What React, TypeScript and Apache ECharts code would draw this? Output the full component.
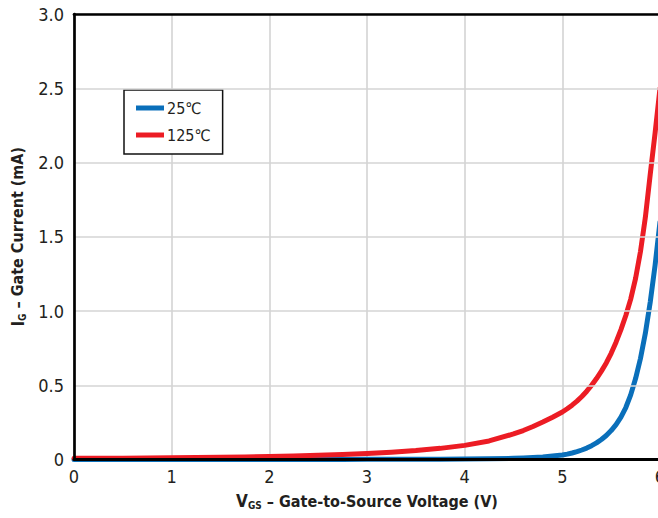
import React, { useEffect, useRef } from "react";
import * as echarts from "echarts";

const vgs = [
  0, 0.25, 0.5, 0.75, 1, 1.25, 1.5, 1.75, 2, 2.25, 2.5, 2.75, 3, 3.25, 3.5, 3.75, 4, 4.25, 4.5,
  4.6, 4.7, 4.8, 4.9, 5.0, 5.05, 5.1, 5.15, 5.2, 5.25, 5.3, 5.35, 5.4, 5.45, 5.5, 5.55, 5.6,
  5.65, 5.7, 5.75, 5.8, 5.85, 5.9, 5.95, 6.0,
];
const ig25 = [
  0, 0, 0, 0, 0, 0, 0, 0, 0, 0, 0, 0.0005, 0.001, 0.0015, 0.002, 0.0025, 0.003, 0.005, 0.008,
  0.01, 0.013, 0.017, 0.023, 0.03, 0.036, 0.044, 0.053, 0.064, 0.077, 0.093, 0.112, 0.135, 0.162, 0.195, 0.235, 0.285,
  0.35, 0.435, 0.545, 0.68, 0.85, 1.06, 1.31, 1.6,
];
const ig125 = [
  0.008, 0.0085, 0.009, 0.01, 0.011, 0.013, 0.015, 0.017, 0.02, 0.024, 0.028, 0.033, 0.04, 0.049, 0.06, 0.075, 0.095, 0.125, 0.172,
  0.195, 0.222, 0.252, 0.285, 0.32, 0.342, 0.366, 0.393, 0.424, 0.46, 0.5, 0.545, 0.595, 0.65, 0.715, 0.79, 0.875,
  0.97, 1.08, 1.22, 1.4, 1.63, 1.92, 2.2, 2.5,
];
const seriesNames = ["25℃", "125℃"];
const xTickLabels = ["0", "1", "2", "3", "4", "5", "6"];
const yTickLabels = ["0", "0.5", "1.0", "1.5", "2.0", "2.5", "3.0"];

const FONT = "'Liberation Sans Narrow', 'DejaVu Sans Condensed', 'Noto Sans', sans-serif";
const INK = "#231f20";

export default function App() {
  const ref = useRef<HTMLDivElement>(null);
  useEffect(() => {
    if (!ref.current) return;
    const chart = echarts.init(ref.current, undefined, { renderer: "svg" });
    const W = 680;
    const H = 518;
    const titleRich = {
      v: { fontFamily: FONT, fontSize: 17, fontWeight: "bold", color: INK },
      s: { fontFamily: FONT, fontSize: 10, fontWeight: "bold", color: INK, padding: [9, 0, 0, 0] },
      t: { fontFamily: FONT, fontSize: 16, fontWeight: "bold", color: INK },
    };
    chart.setOption({
      animation: false,
      backgroundColor: "#ffffff",
      grid: {
        left: 74,
        top: 14,
        right: W - 660,
        bottom: H - 459.5,
        show: false,
      },
      legend: {
        orient: "vertical",
        left: 124,
        top: 90,
        data: seriesNames,
        icon: "rect",
        itemWidth: 28,
        itemHeight: 5,
        itemGap: 9,
        padding: [9, 12, 10, 12],
        backgroundColor: "#fff",
        borderColor: "#111",
        borderWidth: 1.5,
        borderRadius: 0,
        textStyle: { fontFamily: FONT, fontSize: 16, color: INK, lineHeight: 18, padding: [0, 0, 0, -2] },
      },
      xAxis: [
        {
          type: "value",
          min: 0,
          max: 6,
          interval: 1,
          axisLine: { show: false },
          axisTick: { show: false },
          splitLine: { show: true, lineStyle: { color: "#d4d4d4", width: 1.6 } },
          axisLabel: {
            fontFamily: FONT,
            fontSize: 18,
            color: INK,
            margin: 8,
            formatter: (v: number) => xTickLabels[Math.round(v)],
          },
          name: "{v|V}{s|GS}{t| – Gate-to-Source Voltage (V)}",
          nameLocation: "middle",
          nameGap: 32,
          nameTextStyle: { fontFamily: FONT, color: INK, rich: titleRich },
        },
        {
          type: "value",
          min: 0,
          max: 6,
          interval: 1,
          position: "bottom",
          z: 5,
          axisLine: { show: true, onZero: false, lineStyle: { color: "#000", width: 3 } },
          axisTick: { show: false },
          splitLine: { show: false },
          axisLabel: { show: false },
        },
        {
          type: "value",
          min: 0,
          max: 6,
          interval: 1,
          position: "top",
          z: 5,
          axisLine: { show: true, onZero: false, lineStyle: { color: "#000", width: 2.7 } },
          axisTick: { show: false },
          splitLine: { show: false },
          axisLabel: { show: false },
        },
      ],
      yAxis: {
        type: "value",
        min: 0,
        max: 3,
        interval: 0.5,
        z: 5,
        axisLine: { show: true, onZero: false, lineStyle: { color: "#000", width: 2.7 } },
        axisTick: { show: false },
        splitLine: { show: true, lineStyle: { color: "#d4d4d4", width: 1.6 } },
        axisLabel: {
          fontFamily: FONT,
          fontSize: 18,
          color: INK,
          margin: 10,
          formatter: (v: number) => yTickLabels[Math.round(v / 0.5)],
        },
        name: "{v|I}{s|G}{t| – Gate Current (mA)}",
        nameLocation: "middle",
        nameGap: 44,
        nameTextStyle: { fontFamily: FONT, color: INK, rich: titleRich },
      },
      series: [
        {
          name: seriesNames[0],
          type: "line",
          xAxisIndex: 0,
          smooth: false,
          showSymbol: false,
          symbol: "none",
          clip: true,
          lineStyle: { color: "#0a6fba", width: 5, join: "round", cap: "round" },
          itemStyle: { color: "#0a6fba" },
          data: vgs.map((x, i) => [x, ig25[i]]),
        },
        {
          name: seriesNames[1],
          type: "line",
          xAxisIndex: 0,
          smooth: false,
          showSymbol: false,
          symbol: "none",
          clip: true,
          lineStyle: { color: "#ec1c24", width: 5, join: "round", cap: "round" },
          itemStyle: { color: "#ec1c24" },
          data: vgs.map((x, i) => [x, ig125[i]]),
        },
      ],
    });
    return () => chart.dispose();
  }, []);
  return (
    <div
      ref={ref}
      style={{ position: "fixed", left: 0, top: 0, width: 680, height: 518, background: "#fff" }}
    />
  );
}
